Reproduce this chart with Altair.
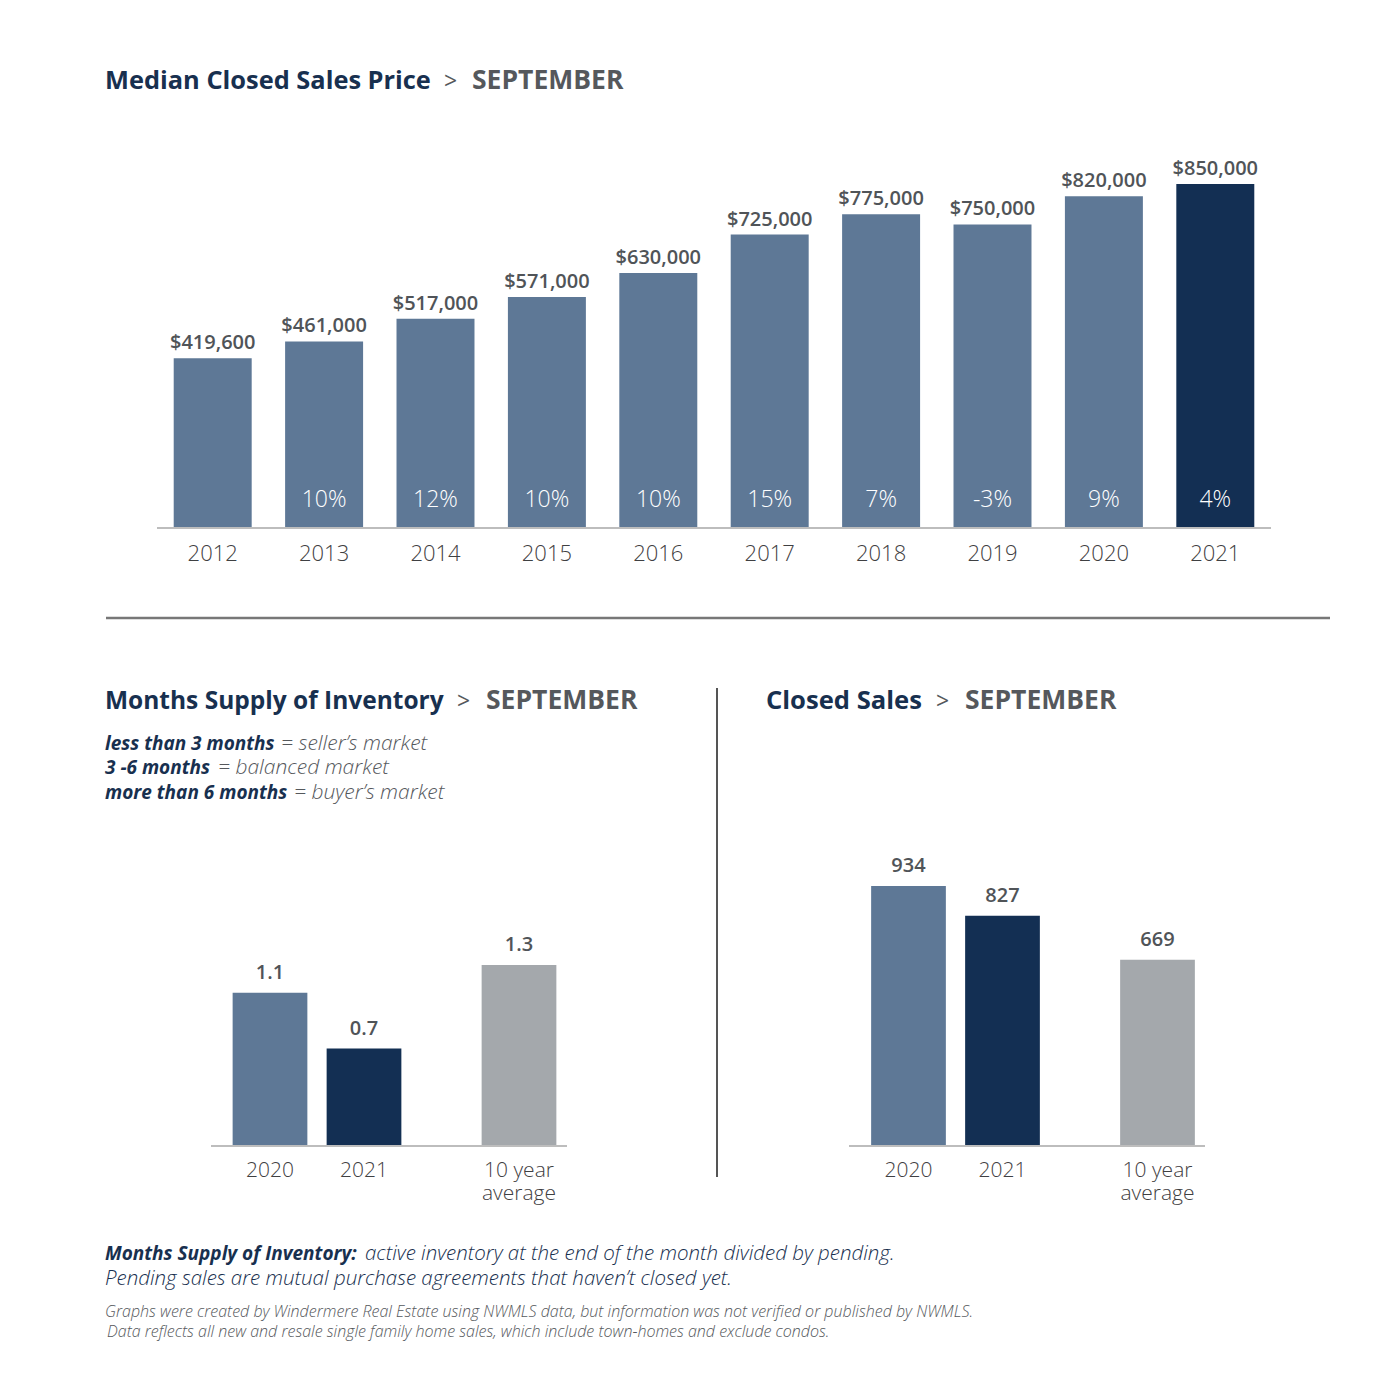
import altair as alt
import pandas as pd

# ---------------- data ----------------
price_years = ["2012", "2013", "2014", "2015", "2016", "2017", "2018", "2019", "2020", "2021"]
price_values = [419600, 461000, 517000, 571000, 630000, 725000, 775000, 750000, 820000, 850000]
price_change = ["", "10%", "12%", "10%", "10%", "15%", "7%", "-3%", "9%", "4%"]

cats = ["2020", "2021", "10 year average"]
cat_labels = ["2020", "2021", "10 year\naverage"]
supply_values = [1.1, 0.7, 1.3]
sales_values = [934, 827, 669]

# ---------------- style ----------------
FONT = "Open Sans"
SLATE = "#5e7896"
NAVY = "#132f53"
GRAYBAR = "#a4a8ac"
TITLE = "#18304f"
GRAYTXT = "#55585c"
VALTXT = "#505458"
CATTXT = "#3f4042"
AXIS = "#bdbdbd"

O = 8  # page margin: chart coords = image coords - 8


def X(v):
    return v - O


def Y(v):
    return v - O


def txt(s, x, y, size, color, weight="normal", style="normal", align="left"):
    return alt.Chart(pd.DataFrame({"k": [0]})).mark_text(
        font=FONT, fontSize=size, color=color, fontWeight=weight, fontStyle=style,
        align=align, baseline="alphabetic"
    ).encode(x=alt.value(X(x)), y=alt.value(Y(y)), text=alt.value(s))


def hrule(x1, x2, y, color, w):
    return alt.Chart(pd.DataFrame({"k": [0]})).mark_rule(color=color, strokeWidth=w).encode(
        x=alt.value(X(x1)), x2=alt.value(X(x2)), y=alt.value(Y(y)))


def vrule(x, y1, y2, color, w):
    return alt.Chart(pd.DataFrame({"k": [0]})).mark_rule(color=color, strokeWidth=w).encode(
        x=alt.value(X(x)), y=alt.value(Y(y1)), y2=alt.value(Y(y2)))


# ---------------- top chart: median price ----------------
top_df = pd.DataFrame({"year": price_years, "price": price_values, "change": price_change})
tx = alt.X("year:N", axis=None, sort=price_years,
           scale=alt.Scale(domain=price_years, range=[X(157), X(1271)],
                           paddingInner=0.3, paddingOuter=0.15))
ty = alt.Y("price:Q", axis=None,
           scale=alt.Scale(domain=[0, max(price_values)], range=[Y(528), Y(184)], nice=False))
base = alt.Chart(top_df)
top_bars = base.mark_bar().encode(
    x=tx, y=ty,
    color=alt.Color("year:N", legend=None,
                    scale=alt.Scale(domain=price_years, range=[SLATE] * 9 + [NAVY])))
top_vals = base.mark_text(font=FONT, fontSize=20, fontWeight=600, color=VALTXT,
                          baseline="alphabetic", dy=-9).encode(
    x=tx, y=ty, text=alt.Text("price:Q", format="$,.0f"))
top_pct = base.mark_text(font=FONT, fontSize=23, fontWeight=300, color="white",
                         baseline="alphabetic").encode(
    x=tx, y=alt.value(Y(507)), text="change:N")
top_years = base.mark_text(font=FONT, fontSize=22, fontWeight=300, color=CATTXT,
                           baseline="alphabetic").encode(
    x=tx, y=alt.value(Y(561)), text="year:N")
top_group = alt.layer(top_bars, top_vals, top_pct, top_years)

# ---------------- bottom charts ----------------
color_scale = alt.Scale(domain=cats, range=[SLATE, NAVY, GRAYBAR])


def bar_group(values, fmt, ymax_px, sub, x_lo, x_hi):
    df = pd.DataFrame({"cat": cats, "label": cat_labels, "v": values})
    df = df[df["cat"].isin(sub)]
    bx = alt.X("cat:N", axis=None, sort=sub,
               scale=alt.Scale(domain=sub, range=[X(x_lo), X(x_hi)],
                               paddingInner=0.205, paddingOuter=0.1025))
    by = alt.Y("v:Q", axis=None,
               scale=alt.Scale(domain=[0, max(values)], range=[Y(1146), Y(ymax_px)], nice=False))
    b = alt.Chart(df)
    bars = b.mark_bar().encode(x=bx, y=by,
                               color=alt.Color("cat:N", legend=None, scale=color_scale))
    vals = b.mark_text(font=FONT, fontSize=20, fontWeight=600, color=VALTXT,
                       baseline="alphabetic", dy=-14).encode(
        x=bx, y=by, text=alt.Text("v:Q", format=fmt))
    labs = b.mark_text(font=FONT, fontSize=21, fontWeight=300, color=CATTXT,
                       baseline="alphabetic", lineBreak="\n", lineHeight=23).encode(
        x=bx, y=alt.value(Y(1177)), text="label:N")
    return alt.layer(bars, vals, labs)


yrs = ["2020", "2021"]
avg = ["10 year average"]
left_a = bar_group(supply_values, ".1f", 965, yrs, 223, 411)
left_b = bar_group(supply_values, ".1f", 965, avg, 472, 566)
right_a = bar_group(sales_values, ",d", 886, yrs, 861.5, 1049.5)
right_b = bar_group(sales_values, ",d", 886, avg, 1110.5, 1204.5)

# ---------------- text & rules ----------------
texts = [
    txt("Median Closed Sales Price", 105, 89, 25.4, TITLE, "bold"),
    txt(">", 444, 89, 23, GRAYTXT),
    txt("SEPTEMBER", 472, 89, 26.5, GRAYTXT, "bold"),
    txt("Months Supply of Inventory", 105, 709, 24.5, TITLE, "bold"),
    txt(">", 457, 709, 23, GRAYTXT),
    txt("SEPTEMBER", 486, 709, 26.5, GRAYTXT, "bold"),
    txt("Closed Sales", 766, 709, 25.6, TITLE, "bold"),
    txt(">", 936, 709, 23, GRAYTXT),
    txt("SEPTEMBER", 965, 709, 26.5, GRAYTXT, "bold"),
    txt("less than 3 months", 105, 750, 19, TITLE, "bold", "italic"),
    txt("= seller\u2019s market", 281, 750, 21, GRAYTXT, 300, "italic"),
    txt("3 -6 months", 105, 774, 19, TITLE, "bold", "italic"),
    txt("= balanced market", 218, 774, 21, GRAYTXT, 300, "italic"),
    txt("more than 6 months", 105, 799, 19, TITLE, "bold", "italic"),
    txt("= buyer\u2019s market", 294, 799, 21, GRAYTXT, 300, "italic"),
    txt("Months Supply of Inventory:", 105, 1260, 19, TITLE, "bold", "italic"),
    txt("active inventory at the end of the month divided by pending.", 365, 1260, 20.5, TITLE, 300, "italic"),
    txt("Pending sales are mutual purchase agreements that haven\u2019t closed yet.", 105, 1285, 20.5, TITLE, 300, "italic"),
    txt("Graphs were created by Windermere Real Estate using NWMLS data, but information was not verified or published by NWMLS.",
        105, 1317, 16, GRAYTXT, 300, "italic"),
    txt("Data reflects all new and resale single family home sales, which include town-homes and exclude condos.",
        107, 1337, 16, GRAYTXT, 300, "italic"),
]
rules = [
    hrule(157, 1271, 528, AXIS, 2),
    hrule(106, 1330, 618, "#777777", 2.5),
    vrule(717, 688, 1177, "#555555", 2),
    hrule(211, 567, 1146, AXIS, 2),
    hrule(849, 1205, 1146, AXIS, 2),
]

chart = alt.layer(
    top_group, left_a, left_b, right_a, right_b, *rules, *texts
).resolve_scale(
    x="independent", y="independent", color="independent"
).properties(
    width=1384, height=1383, autosize=alt.AutoSizeParams(type="none"), padding=0,
    background="white"
).configure_view(stroke=None)

chart.save("out.html", embed_options={"renderer": "svg", "actions": False})
